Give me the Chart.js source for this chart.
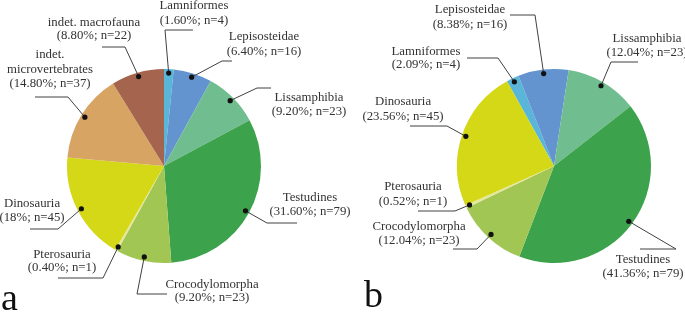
<!DOCTYPE html>
<html>
<head>
<meta charset="utf-8">
<script src="https://cdn.jsdelivr.net/npm/chart.js@4.4.1/dist/chart.umd.min.js"></script>
<style>
  html, body { margin: 0; padding: 0; background: #ffffff; }
  body { width: 685px; height: 312px; position: relative; overflow: hidden; }
  canvas { position: absolute; top: 0; }
</style>
</head>
<body>
<canvas id="left" width="356" height="312" style="left:0px"></canvas>
<canvas id="right" width="329" height="312" style="left:356px"></canvas>
<script>
// ---------- data ----------
const leftCategories = ['Lamniformes', 'Lepisosteidae', 'Lissamphibia', 'Testudines', 'Crocodylomorpha', 'Pterosauria', 'Dinosauria', 'indet. microvertebrates', 'indet. macrofauna'];
const leftCounts = [4, 16, 23, 79, 23, 1, 45, 37, 22];
const leftPercents = ['1.60%', '6.40%', '9.20%', '31.60%', '9.20%', '0.40%', '18%', '14.80%', '8.80%'];

const rightCategories = ['Lamniformes', 'Lepisosteidae', 'Lissamphibia', 'Testudines', 'Crocodylomorpha', 'Pterosauria', 'Dinosauria'];
const rightCounts = [4, 16, 23, 79, 23, 1, 45];
const rightPercents = ['2.09%', '8.38%', '12.04%', '41.36%', '12.04%', '0.52%', '23.56%'];

const panelLetters = ['a', 'b'];

// ---------- styles ----------
const categoryColors = {
  'Lamniformes': '#5ab6d8',
  'Lepisosteidae': '#6494d0',
  'Lissamphibia': '#70bd8f',
  'Testudines': '#3ca34c',
  'Crocodylomorpha': '#a2c654',
  'Pterosauria': '#e4e69a',
  'Dinosauria': '#d4d816',
  'indet. microvertebrates': '#d8a463',
  'indet. macrofauna': '#a5644d'
};

const FONT = '12.8px "Liberation Serif", "Times New Roman", serif';
const TEXT_COLOR = '#333333';
const LINE_COLOR = '#404040';

// callout layout (page coordinates): text centre x, line centres y, elbow, end of horizontal
const leftLayout = [
  { tx: 194, ty: [6, 21], elbow: [165, 30], end: [193, 30] },
  { tx: 264, ty: [37, 52], elbow: [222, 61], end: [232, 61] },
  { tx: 309, ty: [98, 112], elbow: [257, 88], end: [271, 88] },
  { tx: 310, ty: [198, 212], elbow: [267, 223], end: [297, 223] },
  { tx: 212, ty: [285, 298], elbow: [137, 294], end: [167, 294] },
  { tx: 62, ty: [255, 268], elbow: [103, 278], end: [58, 278] },
  { tx: 32, ty: [204, 218], elbow: [58, 229], end: [30, 229] },
  { tx: 50, ty: [55, 70, 84], elbow: [68, 97], end: [35, 97], split: true },
  { tx: 94, ty: [23, 36], elbow: [125, 47], end: [102, 47] }
];
const rightLayout = [
  { tx: 426, ty: [52, 65], elbow: [498, 58], end: [467, 58] },
  { tx: 470, ty: [10, 25], elbow: [535, 15], end: [510, 15] },
  { tx: 647, ty: [39, 53], elbow: [611, 62], end: [638, 62] },
  { tx: 643, ty: [260, 274], elbow: [676, 249], end: [640, 249] },
  { tx: 419, ty: [227, 241], elbow: [477, 249], end: [453, 249] },
  { tx: 413, ty: [187, 202], elbow: [455, 211], end: [418, 211] },
  { tx: 403, ty: [102, 117], elbow: [447, 126], end: [410, 126] }
];

// ---------- callout plugin ----------
const calloutPlugin = {
  id: 'callouts',
  afterDatasetsDraw(chart, args, opts) {
    const ctx = chart.ctx;
    const meta = chart.getDatasetMeta(0);
    const ox = opts.offsetX;
    const cats = chart.data.labels;
    const counts = chart.data.datasets[0].data;
    ctx.save();
    meta.data.forEach((arc, i) => {
      const p = arc.getProps(['x', 'y', 'startAngle', 'endAngle', 'outerRadius'], true);
      const mid = (p.startAngle + p.endAngle) / 2;
      const r = p.outerRadius - 4;
      const dx = p.x + Math.cos(mid) * r;
      const dy = p.y + Math.sin(mid) * r;
      const lay = opts.layout[i];
      // leader line
      ctx.strokeStyle = LINE_COLOR;
      ctx.lineWidth = 1;
      ctx.beginPath();
      ctx.moveTo(dx, dy);
      ctx.lineTo(lay.elbow[0] - ox, lay.elbow[1]);
      ctx.lineTo(lay.end[0] - ox, lay.end[1]);
      ctx.stroke();
      // dot
      ctx.fillStyle = '#111111';
      ctx.beginPath();
      ctx.arc(dx, dy, 2.6, 0, Math.PI * 2);
      ctx.fill();
      // text
      let lines;
      const name = cats[i];
      if (lay.split) {
        const k = name.indexOf(' ');
        lines = [name.slice(0, k), name.slice(k + 1)];
      } else {
        lines = [name];
      }
      lines.push('(' + opts.percents[i] + '; n=' + counts[i] + ')');
      ctx.font = FONT;
      ctx.fillStyle = TEXT_COLOR;
      ctx.textAlign = 'center';
      ctx.textBaseline = 'middle';
      lines.forEach((t, j) => ctx.fillText(t, lay.tx - ox, lay.ty[j]));
    });
    // panel letter
    ctx.font = '38px "Liberation Serif", "Times New Roman", serif';
    ctx.fillStyle = '#111111';
    ctx.textAlign = 'left';
    ctx.textBaseline = 'alphabetic';
    ctx.fillText(opts.letter, opts.letterPos[0] - ox, opts.letterPos[1]);
    ctx.restore();
  }
};

function makePie(id, cats, counts, percents, layout, offsetX, padding, rotation, letter, letterPos) {
  return new Chart(document.getElementById(id), {
    type: 'pie',
    data: {
      labels: cats,
      datasets: [{
        data: counts,
        backgroundColor: cats.map(c => categoryColors[c]),
        borderWidth: 0,
        hoverOffset: 0
      }]
    },
    options: {
      responsive: false,
      animation: false,
      rotation: rotation,
      layout: { padding: padding },
      events: [],
      plugins: {
        legend: { display: false },
        tooltip: { enabled: false },
        callouts: { layout: layout, percents: percents, offsetX: offsetX, letter: letter, letterPos: letterPos }
      }
    },
    plugins: [calloutPlugin]
  });
}

makePie('left', leftCategories, leftCounts, leftPercents, leftLayout, 0,
  { left: 67, right: 95, top: 69, bottom: 49 }, 0, panelLetters[0], [1, 310]);
makePie('right', rightCategories, rightCounts, rightPercents, rightLayout, 356,
  { left: 101, right: 34, top: 69, bottom: 49 }, -29, panelLetters[1], [364, 307]);
</script>
</body>
</html>
